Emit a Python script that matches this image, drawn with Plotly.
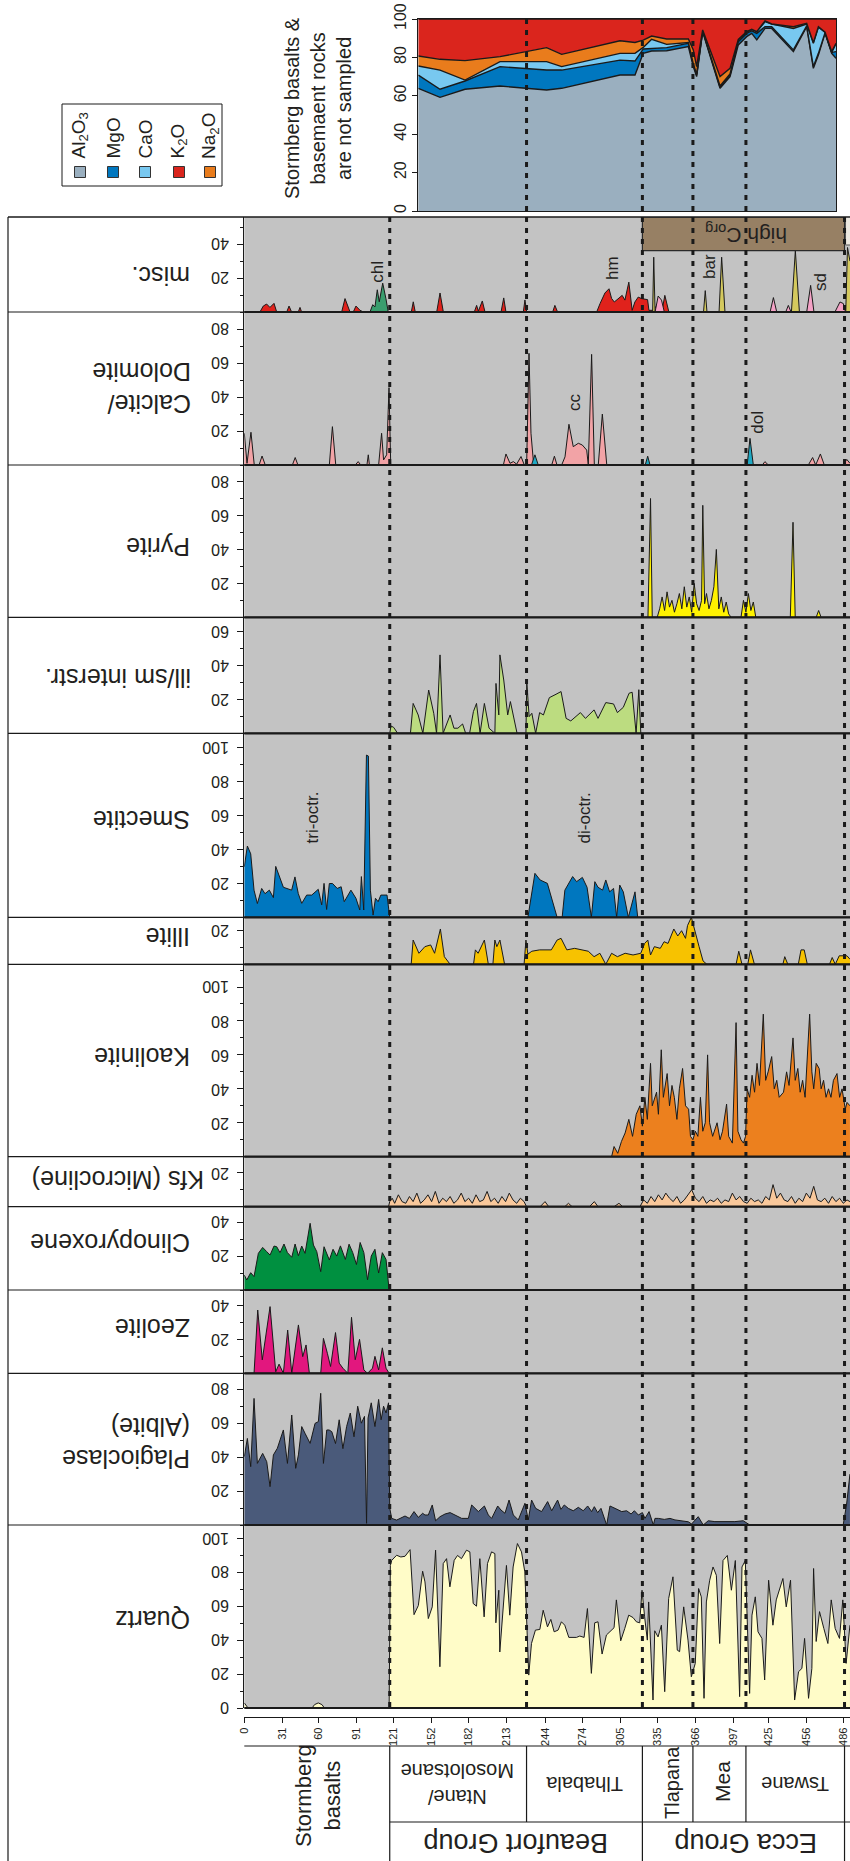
import plotly.graph_objects as go

W, H = 850, 1861
FONT = "Liberation Sans, Arial, sans-serif"
TXT = "#231f20"

# ---------------- data ----------------
DEPTH_TICKS = [0, 31, 60, 91, 121, 152, 182, 213, 244, 274, 305, 335, 366, 397, 425, 456, 486]
DIVIDERS = [118, 229, 323, 364, 407, 487]

QUARTZ = [(0,3),(3,0),(55,0),(57,2),(60,3),(63,2),(65,0),(117.5,0),(118.5,84),(119.6,87),(123.6,90),(127,89),
 (130.4,89.4),(134.5,93.3),(137.7,55),(141.2,60.4),(144.7,80.6),(146.6,74.3),(149.3,52.7),(152.5,59.6),(155.2,93),
 (158.7,24.3),(161.4,85.1),(164.1,88),(166.8,71.4),(170.3,87),(173,89.9),(176.2,88),(180.3,93),(183,92),(185.7,61.6),
 (188.4,60),(191.1,88),(194.6,53.7),(197.3,85.1),(200.6,92),(203.3,91),(204.1,50.2),(206.5,69.4),(207.3,33),(212.7,84),
 (215.4,54.7),(218.1,83.1),(221.6,96.9),(224.9,92),(227.6,80.2),(230.8,19.4),(233,38),(236.2,45.9),(239.8,46.3),
 (242.5,57.6),(246,47.8),(248.7,52.2),(251.4,44.9),(254.6,45.9),(257.3,50.8),(260,48.8),(263.3,41.6),(269.5,41.6),
 (272.2,42.4),(275.7,41.6),(278.4,58.6),(281.6,20.4),(284.3,50.2),(287,50.8),(290.3,31.8),(293.8,43),(300,47.3),
 (301.9,63.7),(305.4,39.6),(308.7,46.9),(311.9,54.7),(315.4,53.3),(318.1,50.8),(320.8,50.2),(322.7,69.4),(324.8,53.7),
 (327,40),(328.1,62.5),(331.6,4.7),(333,45.5),(335.7,41.9),(338.4,48.8),(341.1,9.6),(344.3,64.5),(347.8,77.3),
 (351.3,34.1),(353.2,33.2),(356.5,59.6),(360,40),(362.7,18.4),(365.9,26.3),(368.6,70.4),(370.8,65.5),(373,5.7),
 (374.9,62.5),(377.6,75.3),(380.3,83.1),(383,78.2),(385.7,38),(388.4,86.9),(391.9,89.9),(395.2,69.4),(398.4,86.9),
 (401.9,6.7),(403.8,83.1),(406.5,86.9),(410,8.6),(411.9,54.7),(414.6,65.5),(416.8,44.9),(420,41),(422.2,16.5),
 (425.4,75.3),(428.9,48.8),(431.6,63.7),(437,76.3),(439.7,59.6),(443.2,75.3),(446.5,4.7),(449.7,21.4),(452.4,23.3),
 (454.6,41),(457.8,5.7),(460.5,23.3),(461.9,82.2),(464,39.2),(466.7,56.8),(470.2,46.9),(473.5,38),(476.2,63.7),
 (479.4,46.9),(482.9,41),(485.6,63.7),(488.3,26.3),(491.4,48.8)]

PLAG = [(0,40.3),(2.5,51),(5.2,34.4),(7.9,74.6),(10.6,36.3),(14.9,42.2),(18.2,37.3),(20.9,22.6),(23.6,41.3),(26.8,45.2),
 (31.7,56),(35,36.3),(38.5,64.8),(41.7,33.4),(43.9,41.3),(46.6,58),(49.3,54),(53.4,48.1),(57.4,59.9),(60.1,60.9),
 (62,77.6),(64.2,36.3),(66.9,56),(68.8,56),(71,55),(74,48),(77,62),(80,45),(83,58),(86,66),(89,52),(92,70),(95,60),
 (97.5,64),(99.2,1),(100.4,63),(103,72),(106,58),(109,74),(111,62),(113,70),(115,66),(117,72),(118,10),(119.6,3.9),
 (123.6,2.9),(130.4,5.3),(134,3.9),(137.7,7.9),(141.2,4.5),(144.7,6.9),(146.6,5.9),(149.3,5.9),(152.5,11.8),(155.2,2.5),
 (158.8,4.9),(162.9,6.5),(167,7.3),(176.4,3.9),(181.8,3.9),(184.5,11.8),(189.9,7.9),(194.8,11.2),(198,5.9),(200.7,3.9),
 (205.6,11.2),(208.3,8.8),(211.5,6.9),(214.8,14.7),(218.3,5.9),(222.3,3),(227.7,12.8),(230.4,3),(233.1,14.7),
 (236.4,9.8),(241.2,7.9),(246.1,13.8),(249.4,8.4),(254.2,14.7),(256.9,9.2),(259.6,11.8),(262.9,9.8),(266.9,8.4),
 (271,10.4),(275,8.4),(278.6,11.2),(281.8,7.9),(284,10.8),(286.7,7.3),(289.4,9.8),(294,0),(296.7,11.2),(300.8,9.8),
 (306.2,7.9),(310.2,8.4),(313.8,6.5),(316.5,8.4),(319.7,5.9),(323,7.3),(325.1,3.9),(328.4,7.9),(331.9,0),(333.2,3.9),
 (335.9,3.9),(340.8,3.3),(345.4,3.9),(349.4,3),(354.8,2.5),(360.2,1.9),(362.9,0.6),(368.3,4.9),(372.4,0),(376.4,2.5),
 (381.8,2),(389.9,2),(398,2),(404.8,2.5),(407.5,1),(410.2,0),(485.9,0),(488.6,11.8),(491.4,30)]

ZEOLITE = [(0,0),(7.9,0),(10.9,37.3),(14.6,7.9),(20.9,39.3),(25.5,0.9),(28.2,5.4),(31.7,0),(35.2,25.5),(38.5,0),
 (43.9,28.5),(47.4,9.8),(50.1,16.7),(52.8,0),(62,0),(64.2,20.6),(67.4,11.8),(70,4),(74,24),(77,6),(80,3),(84,0),
 (87,33),(90,8),(93.5,20),(97,2),(100,0),(104,3),(106,10),(109,2),(112,15),(115,3),(117.5,0)]

CPX = [(0,8.8),(2,5.9),(5.2,10.2),(7.9,7.9),(11.4,21.6),(14.9,25.1),(18.2,22.6),(20.9,20.6),(24.1,25.9),(26.3,25.5),
 (29,22),(32.2,27.1),(35,22),(38.5,19.3),(41.2,27.1),(43.9,20.2),(46.6,25.9),(49.3,21.6),(53.4,39.3),(56.1,26.5),
 (58.8,22.6),(62,10.8),(64.7,25.5),(69,17.7),(72,24),(75,20),(78,26),(82,18),(85,27),(88,22),(91,15),(94,28),(97,22),
 (100,6),(103,20),(106,24),(109,10),(112,22),(115,18),(117.5,0)]

KFS = [(117,0),(118,3),(120,5),(122,2),(125,7),(128,3),(131,2),(134,6),(137,3),(140,8),(143,2),(146,4),(149,7),(152,3),
 (155,9),(158,2),(161,5),(164,3),(167,6),(170,2),(173,4),(176,8),(179,3),(182,5),(185,2),(188,7),(191,3),(194,4),
 (197,9),(200,3),(203,5),(206,2),(209,6),(212,3),(215,8),(218,4),(221,2),(224,5),(227,3),(229,0),(240,0),(244,3),
 (247,0),(260,0),(263,2),(266,0),(280,0),(284,3),(287,0),(300,0),(304,2),(307,0),(321,0),(324,4),(327,2),(330,6),
 (333,3),(336,7),(339,4),(342,8),(345,5),(348,3),(351,6),(354,2),(357,4),(360,7),(363,10),(366,5),(369,3),(372,6),
 (375,2),(378,4),(381,3),(384,5),(387,2),(390,4),(393,3),(396,8),(399,4),(402,6),(405,3),(408,2),(411,5),(414,3),
 (417,4),(420,2),(423,6),(426,4),(429,13),(432,5),(435,8),(438,4),(441,3),(444,6),(447,2),(450,5),(453,3),(456,8),
 (459,5),(462,12),(465,4),(468,3),(471,5),(474,2),(477,6),(480,3),(483,5),(486,2),(489,4),(491.4,3)]

KAOLINITE = [(298,0),(300,6),(303,2),(306,9),(309,14),(312,22),(315,12),(318,25),(321,30),(323,18),(325,35),(327,22),
 (329.6,55),(331,30),(334.5,38),(336,25),(338.3,63),(340,35),(343.1,49),(345,30),(347,42),(348.9,35),(351,22),(353,40),
 (355.6,52),(358,30),(360.5,28),(362,12),(364,10),(366,15),(368,12),(370.1,35),(372,15),(374,20),(375.9,60),(377.5,20),
 (380,12),(383.6,20),(386,10),(388,15),(391.3,31),(393,12),(396,8),(399,79),(400.5,15),(403,10),(405,8),(406.7,12),
 (408,40),(410,35),(412,48),(414,38),(416,55),(418,42),(421.1,84),(423,45),(425,50),(427.9,59),(430,40),(432,45),
 (434,35),(437.5,38),(440,50),(442,42),(445.2,70),(447,45),(449.1,52),(451,38),(453,45),(455,35),(458.7,84),(460.5,50),
 (462,40),(464,55),(466.4,52),(468,40),(470,45),(472,35),(474,40),(476,35),(478,45),(480.9,49),(483,35),(485,40),
 (487.6,28),(489,32),(491.4,30)]

ILLITE = [(135.4,0),(137,14.3),(141.7,6.5),(146.5,10.4),(151.2,11.4),(154.4,6.5),(159.1,20.8),(162.3,4.5),(167,0),
 (186,0),(187.5,8.5),(189.7,6.5),(194.8,14.3),(198,0),(201.7,0),(203.3,14.3),(204.9,10.4),(207.4,14.3),(211.2,0),
 (227,0),(228.5,14.3),(230.1,6),(233.3,7.7),(239.6,8.5),(249.1,8.5),(253.8,14.3),(257,15.3),(261.7,8.5),(268,9.4),
 (274.3,8.5),(279.1,7.7),(283.8,4.5),(288.5,6.5),(293.3,0),(298,6.5),(302.7,4.5),(309,6.5),(315.4,5.5),(321.7,6.5),
 (324.8,12.3),(327.4,14.3),(329.6,5.5),(332.7,10.4),(337.5,9.4),(340.6,13.3),(343.8,12.3),(348.5,20.8),(351.7,16.7),
 (354.8,19.8),(358,15.3),(359.6,22.8),(362.7,27.7),(365.3,20),(369,10.4),(372.2,2),(375.3,0),(399,0),(401.2,7.7),
 (403.8,0),(408.5,0),(410.7,8.5),(413.9,0),(437,0),(438.5,4.5),(441,0),(449.5,0),(451.7,8.5),(454.3,8.5),(456.8,0),
 (474.8,0),(477,4),(479.5,0),(482.7,5),(489,5),(491.4,3)]

SMECTITE_TRI = [(0,29.8),(2.5,42),(5.2,37.4),(7.9,16),(10.6,8.1),(14.1,17),(16.8,13.9),(20.3,16),(23.6,11.6),(25.5,30),
 (31.7,17.7),(38.4,16),(41.1,23.8),(43.8,14),(46.6,8.2),(50.6,13.1),(54.7,13.1),(60,16.5),(62.8,7.3),(64.7,20),
 (66.8,4.6),(69,19.9),(71.6,19.9),(75.4,17),(78.6,18),(81.1,9.2),(86.5,16),(90.6,11.2),(93.7,4.3),(95,24),(96.9,4.3),
 (99.1,95.6),(100.7,95),(102.3,16),(104.5,1.3),(106.4,11.2),(108.6,9.2),(110.8,13.1),(113.3,13.1),(115.8,13.1),(118,0)]
SMECTITE_DI = [(230.1,0),(235.8,25.9),(240,22),(245.9,20),(253.8,0),(257.9,0),(260.1,16),(266.4,24),(269.6,21),
 (274.3,23.5),(278.1,17.7),(281.6,0),(284.4,21),(287,17.7),(290.7,16),(293.3,22),(296.4,15),(299.6,17),(302.1,0),
 (304.6,19),(307.5,15),(311.6,0),(317,15),(319.2,0)]

ILLSM = [(118.1,0.4),(119,4.3),(121.2,3.5),(124.4,0),(134.8,0),(137,17.6),(141.1,10.8),(144.9,0),(149.6,25.5),
 (153.7,11.8),(156,0),(158.8,46.2),(161.3,0),(167,10.8),(170.1,3),(173.3,3),(177.1,5.5),(179.6,0),(182.8,0),
 (185.9,12.8),(188.4,17.6),(191.3,0),(194.8,17.6),(198.6,3),(203.3,0),(204.2,29.4),(206.5,10.8),(207.4,46.2),
 (210.5,31.4),(213.7,10.8),(215.9,18.7),(221.3,0),(228.5,0),(229.2,30.4),(231.1,9.8),(233.3,11.8),(236.4,0),
 (239.6,12.2),(242.7,10.8),(247.5,21),(252.9,23),(257,24.6),(261.1,8.8),(264.9,7.3),(272.7,12.2),(276.8,8.8),
 (283.8,13.8),(287,8.8),(293.3,18.1),(299.6,17.3),(302.7,12.2),(307.5,15.3),(312.2,23.6),(314.7,24.2),(317.9,0),
 (320.1,25.7),(321.7,0)]

PYRITE = [(325,0),(327.5,0),(329.6,70),(331,0),(335,0),(337,5),(339,12),(341,4),(343,15),(345,6),(347,10),(349,3),
 (351,8),(353,14),(355,5),(357,18),(359,6),(361,12),(363,3),(365,20),(367,8),(369,4),(371,10),(372,66),(373.5,8),
 (375,14),(377,5),(379,10),(381,18),(383,40),(385,5),(387,12),(389,3),(391,9),(393,2),(395,0),(403,0),(405,10),
 (407,3),(409,14),(411,4),(413,9),(415,0),(443,0),(445.2,56),(447,0),(464,0),(466,4),(468,0)]

CALCITE = [(0,18.7),(2.2,1),(5.4,19.3),(8.1,0),(12,0),(14.4,5.3),(17,0),(39,0),(41.3,4.4),(43.5,0),(69,0),(71.5,22.6),
 (74.2,0),(90,0),(92.4,2),(94.5,0),(99.5,0),(100.6,6),(101.5,0),(109,0),(111.4,18.7),(113,3),(115.5,6),(117.4,45.6),
 (118.8,0),(210.2,0),(212.3,6.5),(215.6,1),(218.3,2),(221,0.5),(224.5,5),(227.2,0),(229.1,1),(231,65.8),(232.6,18.7),
 (233.7,6),(234.8,0),(249.4,0),(251.6,5.2),(253.7,0),(257.5,0),(260.2,4.8),(263.4,24),(266.9,10.8),(271,12.8),
 (274.2,11.8),(277.8,8.8),(279.1,0),(281.8,65.2),(284,0),(287.2,0),(290.5,30),(294.1,0),(420.3,0),(422.4,2),(425.2,0),
 (457.6,0),(461.1,4.4),(463.6,0),(467.4,6.5),(470.6,0),(486,0),(488.8,3.3),(491.4,1)]
DOLOMITE = [(233,0),(235.8,6),(238.5,0),(325.3,0),(327.3,5.2),(329.2,0),(408,0),(410.3,15.7),(413,0)]

HEMATITE = [(12.7,0),(15.4,3.5),(18.1,4.7),(20.8,2.7),(24.1,5.1),(26.3,0),(34.4,0),(36.3,3.5),(38.4,0),(43.8,0),
 (45.2,2.7),(46.5,0),(79,0),(81.7,7.9),(85.8,0),(88.4,0),(90.6,3.5),(93.9,1),(96.6,0),(104,0),(106,2.7),(110,2.7),
 (113,0),(135.5,0),(137.1,6),(138.7,0),(156.1,0),(158.8,11.2),(161.5,0),(186.6,0),(188.5,3.9),(189.9,0.5),(193.1,6.5),
 (195.3,0),(208.3,0),(210.5,8.3),(212.3,0),(226.4,0),(227.7,7.1),(229.1,0),(250.2,0),(252,3.9),(254.2,0),(285.9,0),
 (288.6,4.9),(292.6,11.2),(295.9,13.7),(298,8),(300.2,5.9),(303.9,7.9),(306.6,9.8),(308.8,7),(312,17.6),(314.7,1),
 (316.9,5.9),(319.6,8.8),(322.3,7.9),(327.2,7.3),(328.3,1),(331.8,1),(335.8,4.9),(339,1),(341.2,9.8),(344.5,0)]
CHLORITE = [(102,0),(104.2,4.3),(106,3),(107.9,13.1),(109.5,6),(112.3,17),(114.9,7.9),(116.8,0)]
BARITE = [(331.3,0),(332.2,32.3),(333.3,0),(372.6,0),(374,12.6),(375.4,0),(385.2,0),(387.3,32.3),(390,0),
 (443.9,0),(447.1,36.2),(450.4,0),(488,0),(489.4,38),(491.4,30)]
SIDERITE = [(333.3,0),(335.8,9.4),(338.5,7),(340.8,0),(426.6,0),(429.3,8.5),(432,0),(439.3,0),(441.4,3.9),(443.6,0),
 (456.3,0),(459.5,15.7),(462.2,0),(479.2,0),(483.3,5.9),(486,5),(487.8,0)]

GEO_DEPTH = [141.2,158.8,179.1,207.5,245.3,257.5,304.8,317,323.7,330.5,342.7,360.3,364.3,367,371.9,386,394.1,400.8,
 407.6,411.7,415.8,422.5,427.9,445.5,456.3,461.7,465.8,471.2,476.6,480.1]
AL2O3 = [63.9,59.2,63.4,65.1,63.0,63.9,70.8,70.8,82.1,83.3,83.5,85.6,75.2,70.0,93.4,63.9,70.0,86.5,90.8,92.5,89.1,95.1,
 95.1,83.0,96.0,74.3,81.3,92.5,82.1,79.5]
MGO = [6.9,4.2,4.3,10.1,10.4,9.5,7.8,7.3,2.3,1.4,1.6,1.7,0.8,0.8,0.4,0.5,0.8,1.7,1.7,1.3,3.4,0.9,0.9,0.9,0.4,0.9,0.8,
 0.4,0.5,3.5]
CAO = [4.7,10.0,0.5,2.6,4.4,1.8,3.5,4.0,0.8,4.7,1.7,0.4,0.6,0.6,0.1,0.7,0.6,0.9,0.6,0.8,0.9,2.6,1.4,11.2,1.0,12.1,13.6,
 0.2,0.0,4.3]
NA2O = [5.2,5.6,10.1,2.6,7.3,6.4,6.6,5.7,3.8,1.7,2.8,1.9,7.3,3.8,0.4,4.9,2.9,0.3,0.3,0.0,0.0,0.4,0.0,0.9,0.3,0.4,0.3,
 0.0,0.4,0.0]
K2O = [19.3,21.0,21.7,19.6,14.9,18.4,11.3,12.2,11.0,8.9,10.4,10.4,16.1,24.8,5.7,30.0,25.7,10.6,6.6,5.4,6.6,1.0,2.6,
 4.0,2.3,12.3,4.0,6.9,17.0,12.7]

# ---------------- geometry helpers ----------------
def X(px):
    return px / W

def Y(py):
    return 1 - py / H

X0 = 244.3          # left edge of the depth axis (px)
PXD = 1.2325        # px per depth unit
PXV = 1.697         # px per percent
XMAX = (W - X0) / PXD

def xd(d):
    return X0 + d * PXD

panels = [
    dict(top=217, bot=312, ticks=[20, 40], label="misc.", ly=276, lx=192),
    dict(top=312, bot=465, ticks=[20, 40, 60, 80], label="Calcite/<br>Dolomite", ly=388, lx=193),
    dict(top=465, bot=617.3, ticks=[20, 40, 60, 80], label="Pyrite", ly=547, lx=192),
    dict(top=617.3, bot=733.3, ticks=[20, 40, 60], label="ill/sm interstr.", ly=678, lx=193),
    dict(top=733.3, bot=917.3, ticks=[20, 40, 60, 80, 100], label="Smectite", ly=820, lx=192),
    dict(top=917.3, bot=964.3, ticks=[20], label="Illite", ly=937, lx=192),
    dict(top=964.3, bot=1156.7, ticks=[20, 40, 60, 80, 100], label="Kaolinite", ly=1057, lx=192),
    dict(top=1156.7, bot=1206.7, ticks=[20], label="Kfs (Microcline)", ly=1180, lx=206),
    dict(top=1206.7, bot=1290, ticks=[20, 40], label="Clinopyroxene", ly=1243, lx=192),
    dict(top=1290, bot=1373.3, ticks=[20, 40], label="Zeolite", ly=1328, lx=192),
    dict(top=1373.3, bot=1525, ticks=[20, 40, 60, 80], label="Plagioclase<br>(Albite)", ly=1443, lx=192),
    dict(top=1525, bot=1708, ticks=[0, 20, 40, 60, 80, 100], label="Quartz", ly=1620, lx=192),
]

series = [
    (1, HEMATITE, "#e0221c"), (1, CHLORITE, "#3a9e6e"), (1, BARITE, "#d4c95e"), (1, SIDERITE, "#f4a2c6"),
    (2, CALCITE, "#f2a3a6"), (2, DOLOMITE, "#1fa9c4"),
    (3, PYRITE, "#fff200"),
    (4, ILLSM, "#bcdc80"),
    (5, SMECTITE_TRI, "#0077bf"), (5, SMECTITE_DI, "#0077bf"),
    (6, ILLITE, "#f7c200"),
    (7, KAOLINITE, "#ec801e"),
    (8, KFS, "#f9c89b"),
    (9, CPX, "#009040"),
    (10, ZEOLITE, "#e2177e"),
    (11, PLAG, "#4a5a7a"),
    (12, QUARTZ, "#fffcc8"),
]

fig = go.Figure()
for idx, pts, col in series:
    dd = [p[0] for p in pts]
    vv = [p[1] for p in pts]
    fig.add_trace(go.Scatter(x=dd, y=vv, mode="lines", fill="tozeroy", fillcolor=col,
                             line=dict(color="#1a1a1a", width=1), xaxis=f"x{idx}", yaxis=f"y{idx}",
                             hoverinfo="skip", showlegend=False))

geo = [("Al2O3", AL2O3, "#9aafbf"), ("MgO", MGO, "#0077bf"), ("CaO", CAO, "#78c8f0"),
       ("Na2O", NA2O, "#e97c1c"), ("K2O", K2O, "#da251d")]
for name, vals, col in geo:
    fig.add_trace(go.Scatter(x=GEO_DEPTH, y=vals, mode="lines", stackgroup="g", fillcolor=col,
                             line=dict(color="#1a1a1a", width=1.4), xaxis="x13", yaxis="y13",
                             name=name, hoverinfo="skip", showlegend=False))

layout = dict(width=W, height=H, margin=dict(l=0, r=0, t=0, b=0, pad=0, autoexpand=False),
              paper_bgcolor="white", plot_bgcolor="#c3c3c3", font=dict(family=FONT, color=TXT),
              showlegend=False)

shapes = []
annotations = []

def ann(x, y, text, angle=0, size=16, **kw):
    d = dict(x=X(x), y=Y(y), xref="paper", yref="paper", text=text, textangle=angle, showarrow=False,
             xanchor="center", yanchor="middle", font=dict(size=size, color=TXT, family=FONT))
    d.update(kw)
    annotations.append(d)

for i, p in enumerate(panels, start=1):
    ymax = (p["bot"] - p["top"]) / PXV
    xa = dict(domain=[X(X0), 1], range=[0, XMAX], anchor=f"y{i}", showgrid=False, zeroline=False,
              visible=False, fixedrange=True, automargin=False)
    if i == 12:
        xa.update(visible=True, anchor="free", position=Y(1717), showline=True, linecolor="#1a1a1a",
                  linewidth=1.3, ticks="outside", ticklen=5, tickcolor="#1a1a1a", tickvals=DEPTH_TICKS,
                  ticktext=[str(t) for t in DEPTH_TICKS], tickangle=-90, tickfont=dict(size=11, color=TXT))
    layout[f"xaxis{i}"] = xa
    layout[f"yaxis{i}"] = dict(domain=[Y(p["bot"]), Y(p["top"])], range=[0, ymax], anchor=f"x{i}",
                               showgrid=False, zeroline=False, showline=True, linecolor="#1a1a1a",
                               linewidth=1.3, ticks="outside", ticklen=6, tickcolor="#1a1a1a",
                               tickvals=p["ticks"], showticklabels=False, fixedrange=True, automargin=False,
                               minor=dict(dtick=10, tick0=0, ticks="outside", ticklen=3.5,
                                          tickcolor="#1a1a1a"))
    for t in p["ticks"]:
        ann(231, p["bot"] - t * PXV, str(t), 180, 16, xanchor="right")
    ann(p["lx"], p["ly"], p["label"], 180, 25, xanchor="right", align="left")
    if i < 12:
        shapes.append(dict(type="line", xref="paper", yref="paper", x0=X(8), x1=1, y0=Y(p["bot"]),
                           y1=Y(p["bot"]), line=dict(color="#1a1a1a", width=1.2)))
    shapes.append(dict(type="line", xref="paper", yref="paper", x0=X(X0), x1=1, y0=Y(p["bot"]),
                       y1=Y(p["bot"]), line=dict(color="#1a1a1a", width=2.2)))

# geochem axes
layout["xaxis13"] = dict(domain=[X(418.3), X(836)], range=[(418.3 - X0) / PXD, (836 - X0) / PXD], anchor="y13",
                         showline=True, mirror=True, linecolor="#1a1a1a", linewidth=1.3, showticklabels=False,
                         ticks="", showgrid=False, zeroline=False, fixedrange=True, automargin=False)
layout["yaxis13"] = dict(domain=[Y(211), Y(19)], range=[0, 100], anchor="x13", showline=True, mirror=True,
                         linecolor="#1a1a1a", linewidth=1.3, ticks="outside", ticklen=5, tickcolor="#1a1a1a",
                         tickvals=[0, 20, 40, 60, 80, 100], tickangle=-90, tickfont=dict(size=16, color=TXT),
                         showgrid=False, zeroline=False, fixedrange=True, automargin=False)

# outer frame
shapes.append(dict(type="line", xref="paper", yref="paper", x0=X(8), x1=1, y0=Y(217), y1=Y(217),
                   line=dict(color="#1a1a1a", width=1.3)))
shapes.append(dict(type="line", xref="paper", yref="paper", x0=X(8), x1=X(8), y0=Y(217), y1=0,
                   line=dict(color="#1a1a1a", width=1.2)))

# high C_org box
shapes.append(dict(type="rect", xref="paper", yref="paper", x0=X(xd(323)), x1=X(xd(487)), y0=Y(250.7), y1=Y(217.5),
                   fillcolor="#978064", line=dict(color="#2a2a2a", width=1.2)))
shapes.append(dict(type="rect", xref="paper", yref="paper", x0=X(xd(487) + 1), x1=X(862), y0=Y(245), y1=Y(217.5),
                   fillcolor="#ece8e0", line=dict(color="#555555", width=1)))
ann(746, 234, "high C<sub>org</sub>", 180, 21)

# dashed boundaries
for d in DIVIDERS:
    top = 19 if 141.2 < d < 480 else 217
    shapes.append(dict(type="line", xref="paper", yref="paper", x0=X(xd(d)), x1=X(xd(d)), y0=Y(top), y1=Y(1708),
                       line=dict(color="#1a1a1a", width=3, dash="5px,6px")))

# mineral tags
tags = [("chl", 376.7, 272), ("hm", 613, 268), ("bar", 710, 267), ("sd", 820, 282), ("cc", 574, 402),
        ("dol", 757.7, 422), ("tri-octr.", 311.5, 818), ("di-octr.", 584.4, 818)]
for t, x, y in tags:
    ann(x, y, t, -90, 17)

# legend box
shapes.append(dict(type="rect", xref="paper", yref="paper", x0=X(62), x1=X(222), y0=Y(186), y1=Y(104),
                   line=dict(color="#1a1a1a", width=1), fillcolor="white"))
legend_items = [("Al<sub>2</sub>O<sub>3</sub>", "#9aafbf", 80), ("MgO", "#0077bf", 113), ("CaO", "#78c8f0", 145),
                ("K<sub>2</sub>O", "#da251d", 179), ("Na<sub>2</sub>O", "#e97c1c", 210)]
for txt, col, cx in legend_items:
    shapes.append(dict(type="rect", xref="paper", yref="paper", x0=X(cx - 5.5), x1=X(cx + 5.5), y0=Y(177.5),
                       y1=Y(166.5), fillcolor=col, line=dict(color="#333333", width=1)))
    ann(cx, 161, txt, -90, 19, yanchor="bottom")

ann(318, 108, "Stormberg basalts &<br>basemaent rocks<br>are not sampled", -90, 20, align="center")

# stratigraphic table
def hline(y, x0, x1, w=1.2):
    shapes.append(dict(type="line", xref="paper", yref="paper", x0=X(x0), x1=X(x1), y0=Y(y), y1=Y(y),
                       line=dict(color="#1a1a1a", width=w)))

def vline(x, y0, y1, w=1.2):
    shapes.append(dict(type="line", xref="paper", yref="paper", x0=X(x), x1=X(x), y0=Y(y0), y1=Y(y1),
                       line=dict(color="#1a1a1a", width=w)))

hline(1746, X0, W)
hline(1822, xd(118), W)
vline(xd(118), 1746, H)
for d in (229, 364, 407):
    vline(xd(d), 1746, 1822)
for d in (323, 487):
    vline(xd(d), 1746, H)

strat = [
    ("Stormberg<br>basalts", 318, 1796, -90, 22),
    ("Ntane/<br>Mosolotsane", 458, 1784, 180, 20),
    ("Tlhabala", 584, 1784, 180, 20),
    ("Tlapana", 672, 1783, -90, 20),
    ("Mea", 722, 1782, -90, 21),
    ("Tswane", 795, 1784, 180, 20),
    ("Beaufort Group", 516, 1843, 180, 27),
    ("Ecca Group", 746, 1843, 180, 27),
    ("basement", 858, 1802, -90, 19),
]
for txt, x, y, ang, sz in strat:
    ann(x, y, txt, ang, sz, align="center")

layout["shapes"] = shapes
layout["annotations"] = annotations
fig.update_layout(**layout)
fig.write_html("out.html")
